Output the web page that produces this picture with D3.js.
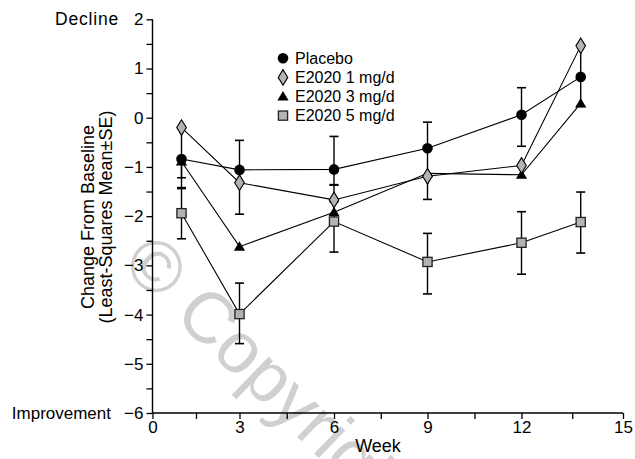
<!DOCTYPE html>
<html>
<head>
<meta charset="utf-8">
<script src="https://cdn.jsdelivr.net/npm/d3@7/dist/d3.min.js"></script>
<style>
  html, body { margin: 0; padding: 0; background: #fff; }
  svg { display: block; font-family: "Liberation Sans", Arial, Helvetica, sans-serif; }
</style>
</head>
<body>
<svg id="chart" width="635" height="459"></svg>
<script>
// ---- data ----
const weeks = [1, 3, 6, 9, 12, 13.75];
const seriesNames = ["Placebo", "E2020 1 mg/d", "E2020 3 mg/d", "E2020 5 mg/d"];
const placebo = [-0.84, -1.06, -1.05, -0.62, 0.06, 0.83];
const mg1 = [-0.20, -1.32, -1.67, -1.19, -0.97, 1.46];
const mg3 = [-0.89, -2.62, -1.92, -1.13, -1.16, 0.29];
const mg5 = [-1.94, -3.99, -2.11, -2.93, -2.54, -2.12];
// error bar extents (SE) drawn above / below each mean, as visible in the figure
const placeboUp = [0, 0.60, 0.67, 0.53, 0.55, 0];
const placeboDown = [0.60, 0, 0.32, 0.55, 0.64, 0.60];
const mg1Up = [0, 0, 0.31, 0, 0, 0];
const mg1Down = [0.64, 0.64, 0, 0.47, 0, 0.63];
const mg3Up = [0, 0, 0, 0, 0, 0];
const mg3Down = [0.33, 0, 0, 0, 0, 0];
const mg5Up = [0.52, 0.63, 0.40, 0.58, 0.63, 0.61];
const mg5Down = [0.52, 0.60, 0.62, 0.65, 0.64, 0.63];
const xMajorTicks = [0, 3, 6, 9, 12, 15];
const xMinorTicks = [1.5, 4.5, 7.5, 10.5, 13.5];
const yMajorTicks = [2, 1, 0, -1, -2, -3, -4, -5, -6];
const yMinorTicks = [1.5, 0.5, -0.5, -1.5, -2.5, -3.5, -4.5, -5.5];

const svg = d3.select("#chart");

// scales (polylinear x follows the reproduced figure's axis)
const x = d3.scaleLinear().domain([0, 3, 6, 9, 12, 15]).range([152.5, 239.5, 334, 427.5, 521.5, 623]);
const y = d3.scaleLinear().domain([-6, 2]).range([413, 19.3]);

// watermark
svg.append("text")
  .attr("transform", `translate(120,266) rotate(44)`)
  .attr("font-size", 72)
  .attr("fill", "#d0d0d0")
  .text("© Copyright");

// axes
const fmt = d => d < 0 ? "\u2212" + Math.abs(d) : String(d);
const yAxis = svg.append("g").attr("transform", `translate(${x(0)},0)`)
  .call(d3.axisLeft(y).tickValues(yMajorTicks).tickFormat(fmt).tickSize(6).tickPadding(3));
svg.append("g").attr("transform", `translate(${x(0)},0)`)
  .call(d3.axisLeft(y).tickValues(yMinorTicks).tickFormat("").tickSize(6))
  .select(".domain").remove();
const xAxis = svg.append("g").attr("transform", `translate(0,${y(-6)})`)
  .call(d3.axisBottom(x).tickValues(xMajorTicks).tickSize(6).tickPadding(2));
svg.append("g").attr("transform", `translate(0,${y(-6)})`)
  .call(d3.axisBottom(x).tickValues(xMinorTicks).tickFormat("").tickSize(6))
  .select(".domain").remove();
svg.selectAll(".domain").attr("stroke", "#000").attr("stroke-width", 1.4);
svg.selectAll(".tick line").attr("stroke", "#000").attr("stroke-width", 1.3);
svg.selectAll(".tick text").attr("font-size", 17).attr("fill", "#000")
  .attr("font-family", "'Liberation Sans', Arial, sans-serif");
// straight domain lines without outer ticks
yAxis.select(".domain").attr("d", `M0,${y(2)}V${y(-6)}`);
xAxis.select(".domain").attr("d", `M${x(0)},0H${x(15)}`);

// axis titles
svg.append("text").attr("x", 378).attr("y", 452).attr("text-anchor", "middle")
  .attr("font-size", 18).text("Week");
const yt = svg.append("text").attr("transform", `translate(94,217) rotate(-90)`)
  .attr("text-anchor", "middle").attr("font-size", 18);
yt.append("tspan").attr("x", 0).attr("dy", 0).text("Change From Baseline");
yt.append("tspan").attr("x", 0).attr("dy", 17.5).text("(Least-Squares Mean\u00B1SE)");
svg.append("text").attr("x", 119).attr("y", y(2)).attr("dy", "0.35em")
  .attr("text-anchor", "end").attr("font-size", 17.5).attr("letter-spacing", 0.8).text("Decline");
svg.append("text").attr("x", 111).attr("y", y(-6)).attr("dy", "0.35em")
  .attr("text-anchor", "end").attr("font-size", 17).text("Improvement");

// series definitions
const series = [
  { name: seriesNames[0], vals: placebo, up: placeboUp, down: placeboDown, shape: "circle" },
  { name: seriesNames[2], vals: mg3, up: mg3Up, down: mg3Down, shape: "triangle" },
  { name: seriesNames[1], vals: mg1, up: mg1Up, down: mg1Down, shape: "diamond" },
  { name: seriesNames[3], vals: mg5, up: mg5Up, down: mg5Down, shape: "square" }
];

const line = d3.line().x((d, i) => x(weeks[i])).y(d => y(d));
series.forEach(s => {
  svg.append("path").datum(s.vals).attr("d", line)
    .attr("fill", "none").attr("stroke", "#000").attr("stroke-width", 1.1);
});

// error bars
const capW = 4.5;
series.forEach(s => {
  s.vals.forEach((v, i) => {
    const cx = x(weeks[i]);
    const parts = [];
    if (s.up[i] > 0) parts.push(v + s.up[i]);
    if (s.down[i] > 0) parts.push(v - s.down[i]);
    parts.forEach(e => {
      svg.append("line").attr("x1", cx).attr("x2", cx).attr("y1", y(v)).attr("y2", y(e))
        .attr("stroke", "#000").attr("stroke-width", 1.4);
      svg.append("line").attr("x1", cx - capW).attr("x2", cx + capW).attr("y1", y(e)).attr("y2", y(e))
        .attr("stroke", "#000").attr("stroke-width", 1.6);
    });
  });
});

function drawMarker(g, shape, cx, cy) {
  if (shape === "circle") {
    g.append("circle").attr("cx", cx).attr("cy", cy).attr("r", 5.3).attr("fill", "#000");
  } else if (shape === "triangle") {
    g.append("path").attr("d", `M${cx},${cy - 5.5}L${cx + 5.6},${cy + 4}L${cx - 5.6},${cy + 4}Z`).attr("fill", "#000");
  } else if (shape === "diamond") {
    g.append("path").attr("d", `M${cx},${cy - 7.8}L${cx + 4.8},${cy}L${cx},${cy + 7.8}L${cx - 4.8},${cy}Z`)
      .attr("fill", "#b3b3b3").attr("stroke", "#000").attr("stroke-width", 1.1);
  } else {
    g.append("rect").attr("x", cx - 4.6).attr("y", cy - 4.6).attr("width", 9.2).attr("height", 9.2)
      .attr("fill", "#b3b3b3").attr("stroke", "#222").attr("stroke-width", 1.3);
  }
}

const mg = svg.append("g");
series.forEach(s => {
  s.vals.forEach((v, i) => drawMarker(mg, s.shape, x(weeks[i]), y(v)));
});

// legend
const legendOrder = [
  { name: seriesNames[0], shape: "circle" },
  { name: seriesNames[1], shape: "diamond" },
  { name: seriesNames[2], shape: "triangle" },
  { name: seriesNames[3], shape: "square" }
];
const lg = svg.append("g");
legendOrder.forEach((d, i) => {
  const ly = 58.3 + i * 19.1;
  drawMarker(lg, d.shape, 283, ly);
  lg.append("text").attr("x", 295).attr("y", ly).attr("dy", "0.36em")
    .attr("font-size", 16).text(d.name);
});
</script>
</body>
</html>
